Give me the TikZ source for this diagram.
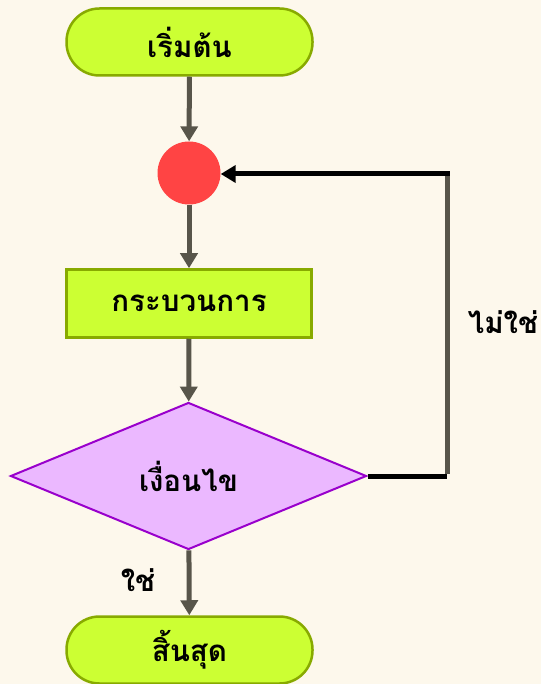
\documentclass[tikz,border=0pt]{standalone}
\usepackage{fontspec}
\newfontfamily\thaifont[Script=Thai]{Loma}
\usetikzlibrary{shapes.geometric,arrows.meta}
\definecolor{bg}{HTML}{FDF8EC}
\definecolor{lime}{HTML}{CCFF33}
\definecolor{limeborder}{HTML}{88AA00}
\definecolor{dotred}{HTML}{FF4444}
\definecolor{lilac}{HTML}{EBB8FF}
\definecolor{purpleborder}{HTML}{9900CC}
\definecolor{arrowgray}{HTML}{58554A}
\tikzset{
  thai/.style={font=\thaifont\bfseries\fontsize{29.5}{34}\selectfont, text=black},
  term/.style={thai, rectangle, rounded corners=33pt, draw=limeborder, fill=lime, line width=2.5pt, minimum width=246pt, minimum height=67pt, inner sep=0pt},
  procbox/.style={thai, rectangle, draw=limeborder, fill=lime, line width=2.5pt, minimum width=245pt, minimum height=68pt, inner sep=0pt},
  decision/.style={thai, diamond, draw=purpleborder, fill=lilac, line width=2pt, minimum width=356pt, minimum height=147pt, shape aspect=2.4, inner sep=0pt},
  joint/.style={circle, fill=dotred, minimum size=63pt, inner sep=0pt},
  garrow/.style={draw=arrowgray, line width=5pt, -{Triangle[width=17pt,length=15pt]}},
  blackline/.style={draw=black, line width=5pt},
  grayline/.style={draw=arrowgray, line width=5pt},
  lbl/.style={thai}
}
\begin{document}
\begin{tikzpicture}[x=1pt,y=-1pt]
\fill[bg] (0,0) rectangle (541,684);
\useasboundingbox (0,0) rectangle (541,684);
\node[term] (start) at (189.5,42) {เริ่มต้น};
\node[joint] (j) at (189,173) {};
\node[procbox] (p) at (189,303.5) {กระบวนการ};
\node[decision] (d) at (188.5,476) {เงื่อนไข};
\node[term] (stop) at (189.5,650) {สิ้นสุด};
\coordinate (c1) at (447,476);
\coordinate (c2) at (447,174);
\draw[garrow] (start) -- (j);
\draw[garrow] (j) -- (p);
\draw[garrow] (p) -- (d);
\draw[garrow] (d) -- (stop);
\draw[blackline] (d.east) -- (c1);
\draw[grayline] ([yshift=2.5pt]c1) -- ([yshift=-2.5pt]c2);
\draw[blackline, -{Triangle[width=17pt,length=15pt]}] ([xshift=2.5pt]c2) -- (j.east |- c2);
\node[lbl] (no) at (503,322) {ไม่ใช่};
\node[lbl] (yes) at (138,580) {ใช่};
\end{tikzpicture}
\end{document}
